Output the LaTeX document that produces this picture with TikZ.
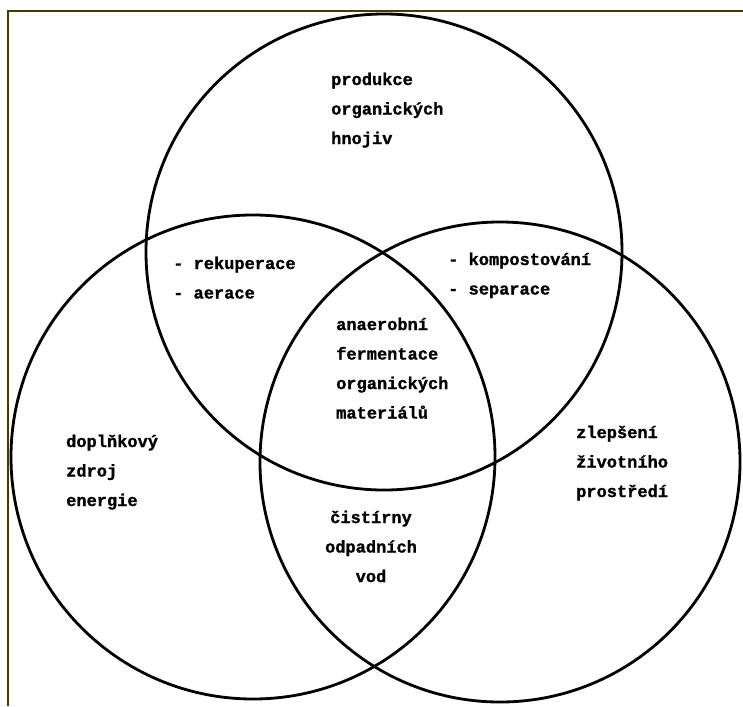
\documentclass[tikz,border=0pt]{standalone}
\usepackage{fontspec}
\setmonofont{Liberation Mono}[BoldFeatures={FakeBold=1.2}]
\begin{document}
\begin{tikzpicture}[x=1pt,y=-1pt,
  ring/.style={draw=black,line width=2.8pt},
  frameline/.style={draw=framecol,line width=2pt},
  label/.style={inner sep=0pt,anchor=north west,align=left,
    font={\ttfamily\bfseries\fontsize{17}{29.5}\selectfont}},
  clabel/.style={label,anchor=north,align=center}]
\definecolor{framecol}{RGB}{66,58,0}
\useasboundingbox (0,0) rectangle (743,706);
\fill[white] (0,0) rectangle (743,706);
% outer frame (top and left edges)
\draw[frameline] (743,11) -- (8,11) -- (8,706);
% the three sets
\draw[ring] (384,252) circle (238);
\draw[ring] (253,457) circle (242);
\draw[ring] (500,462) circle (240);
% set and overlap labels
\node[label] (top) at (331,72.5) {\rule{0pt}{12pt}produkce\\organických\\hnojiv};
\node[label] (tl) at (173,256.5) {\rule{0pt}{12pt}- rekuperace\\- aerace};
\node[label] (tr) at (448,252.5) {\rule{0pt}{12pt}- kompostování\\- separace};
\node[label] (mid) at (336,317.5) {\rule{0pt}{12pt}anaerobní\\fermentace\\organických\\materiálů};
\node[label] (left) at (66,434.5) {\rule{0pt}{12pt}doplňkový\\zdroj\\energie};
\node[label] (right) at (576,425.5) {\rule{0pt}{12pt}zlepšení\\životního\\prostředí};
\node[clabel] (bottom) at (371,510.5) {\rule{0pt}{12pt}čistírny\\odpadních\\vod};
\end{tikzpicture}
\end{document}
